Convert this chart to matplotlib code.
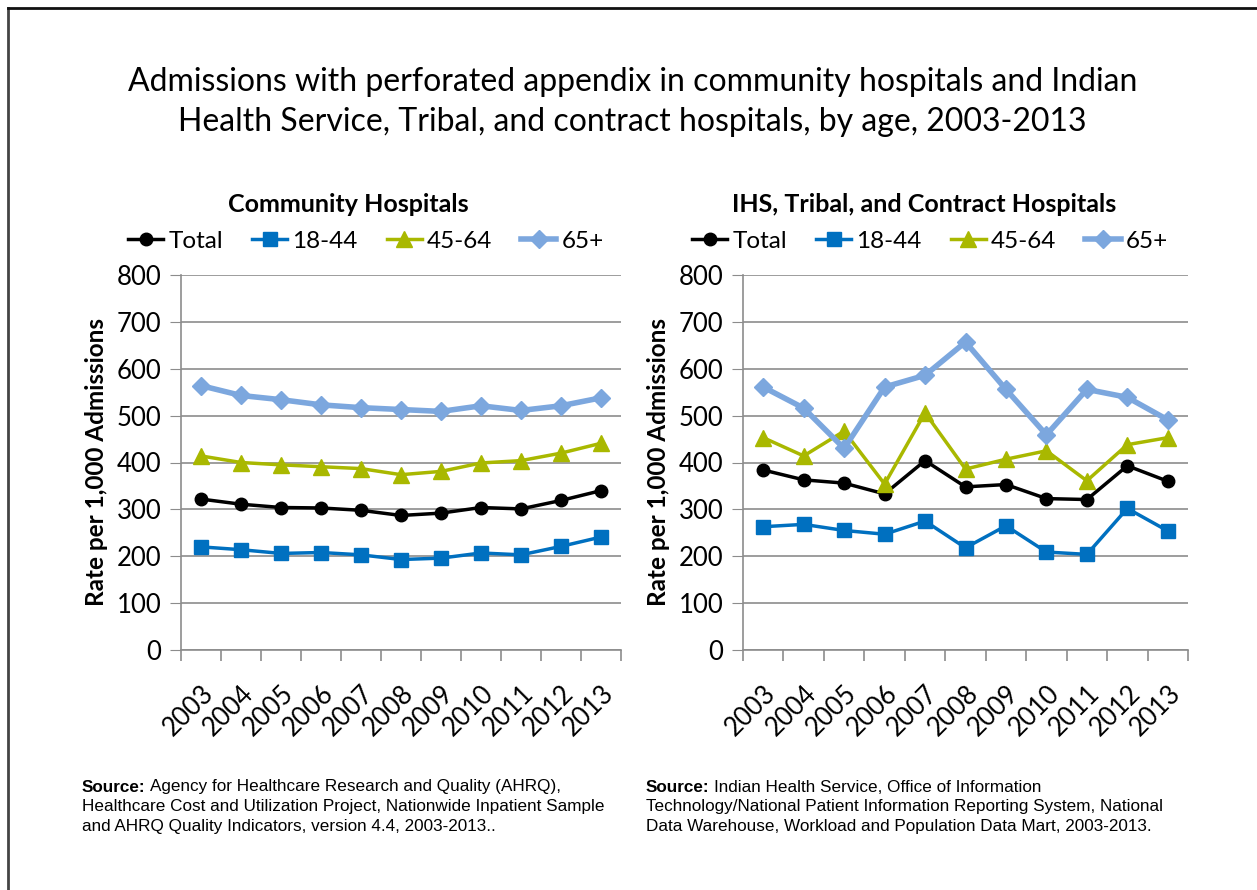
import matplotlib.pyplot as plt
import matplotlib.transforms as mtransforms
from matplotlib.lines import Line2D
from matplotlib.ticker import FixedLocator, NullFormatter

years = ['2003', '2004', '2005', '2006', '2007', '2008', '2009', '2010', '2011', '2012', '2013']

# Community hospitals
comm_total = [322, 311, 304, 303, 298, 287, 292, 304, 301, 319, 340]
comm_18_44 = [220, 214, 206, 208, 203, 193, 196, 207, 203, 221, 241]
comm_45_64 = [414, 400, 395, 391, 387, 374, 381, 399, 404, 420, 441]
comm_65 = [564, 543, 534, 523, 517, 513, 509, 521, 511, 521, 538]

# IHS, Tribal, and contract hospitals
ihs_total = [384, 363, 356, 333, 404, 348, 353, 323, 321, 393, 360]
ihs_18_44 = [263, 268, 255, 247, 275, 218, 265, 209, 204, 302, 254]
ihs_45_64 = [453, 414, 467, 354, 506, 386, 407, 425, 361, 438, 453]
ihs_65 = [561, 516, 430, 561, 586, 657, 556, 459, 556, 539, 491]

series_names = ['Total', '18-44', '45-64', '65+']
colors = ['#000000', '#0070C0', '#A9B800', '#7CA7DE']
markers = ['o', 's', '^', 'D']
msizes = [9, 10, 11, 9]
lwidths = [2.5, 2.5, 2.5, 4]

src_left = ['Agency for Healthcare Research and Quality (AHRQ),',
            'Healthcare Cost and Utilization Project, Nationwide Inpatient Sample',
            'and AHRQ Quality Indicators, version 4.4, 2003-2013..']
src_right = ['Indian Health Service, Office of Information',
             'Technology/National Patient Information Reporting System, National',
             'Data Warehouse, Workload and Population Data Mart, 2003-2013.']

plt.rcParams['font.family'] = ['Lato', 'DejaVu Sans']

fig = plt.figure(figsize=(12.57, 8.9), dpi=100)

fig.text(0.503, 1 - 102 / 890, 'Admissions with perforated appendix in community hospitals and Indian\n'
         'Health Service, Tribal, and contract hospitals, by age, 2003-2013',
         ha='center', va='center', fontsize=23, linespacing=1.42)

# outer border (left and top)
fig.add_artist(Line2D([0.0065, 0.0065], [0, 0.991], transform=fig.transFigure, color='#444444', lw=2))
fig.add_artist(Line2D([0.0065, 1.0], [0.991, 0.991], transform=fig.transFigure, color='#111111', lw=2))

panels = [
    ('Community Hospitals', [comm_total, comm_18_44, comm_45_64, comm_65], 181 / 1257, 621 / 1257, 0.38),
    ('IHS, Tribal, and Contract Hospitals', [ihs_total, ihs_18_44, ihs_45_64, ihs_65], 743 / 1257, 1188 / 1257, 0.407),
]

bottom = 1 - 650 / 890
top = 1 - 275 / 890
shift = mtransforms.ScaledTranslation(6 / 100, 0, fig.dpi_scale_trans)

for title, data, x0, x1, tx in panels:
    ax = fig.add_axes([x0, bottom, x1 - x0, top - bottom])
    x = list(range(len(years)))
    handles = []
    for vals, name, c, m, ms, lw in zip(data, series_names, colors, markers, msizes, lwidths):
        h, = ax.plot(x, vals, color=c, marker=m, markersize=ms, lw=lw, label=name,
                     markeredgecolor=c, zorder=3)
        handles.append(h)
    ax.set_xlim(-0.5, len(years) - 0.5)
    ax.set_ylim(0, 800)
    ax.set_yticks(range(0, 801, 100))
    ax.grid(axis='y', color='#8c8c8c', lw=1.2)
    ax.set_axisbelow(True)
    for s in ['top', 'right']:
        ax.spines[s].set_visible(False)
    for s in ['left', 'bottom']:
        ax.spines[s].set_color('#8c8c8c')
        ax.spines[s].set_linewidth(1.2)
    ax.tick_params(axis='y', length=8, color='#8c8c8c', labelsize=18.5, pad=6)
    ax.set_xticks(x)
    ax.set_xticklabels(years, rotation=45, ha='right', rotation_mode='anchor', fontsize=18.5)
    for lbl in ax.get_xticklabels():
        lbl.set_transform(lbl.get_transform() + shift)
    ax.tick_params(axis='x', which='major', length=0, pad=22)
    ax.xaxis.set_minor_locator(FixedLocator([i - 0.5 for i in range(len(years) + 1)]))
    ax.xaxis.set_minor_formatter(NullFormatter())
    ax.tick_params(axis='x', which='minor', length=8, color='#8c8c8c', width=1.2)
    ax.set_ylabel('Rate per 1,000 Admissions', fontsize=17.5, fontweight='bold', labelpad=6)
    ax.text(tx, 1 + 70 / 375, title, transform=ax.transAxes,
            ha='center', va='center', fontsize=18, fontweight='bold')
    ax.legend(handles=handles, loc='center', bbox_to_anchor=(0.42, 1 + 34 / 375), ncol=4, frameon=False,
              fontsize=17.5, handlelength=1.45, handletextpad=0.2, columnspacing=1.2, borderaxespad=0)

# source notes: bold "Source:" followed by plain text
fig.canvas.draw()
renderer = fig.canvas.get_renderer()
src_font = ['Liberation Sans', 'DejaVu Sans']
for left_px, lines in [(82, src_left), (646, src_right)]:
    y0 = 1 - 787 / 890
    lab = fig.text(left_px / 1257, y0, 'Source:', fontsize=12.3, fontweight='bold',
                   family=src_font, va='center')
    w = lab.get_window_extent(renderer).width
    fig.text((left_px + w + 4) / 1257, y0, lines[0], fontsize=12.3, family=src_font, va='center')
    for i, line in enumerate(lines[1:], start=1):
        fig.text(left_px / 1257, y0 - i * 20 / 890, line, fontsize=12.3, family=src_font, va='center')

fig.savefig('out.png', dpi=100)
